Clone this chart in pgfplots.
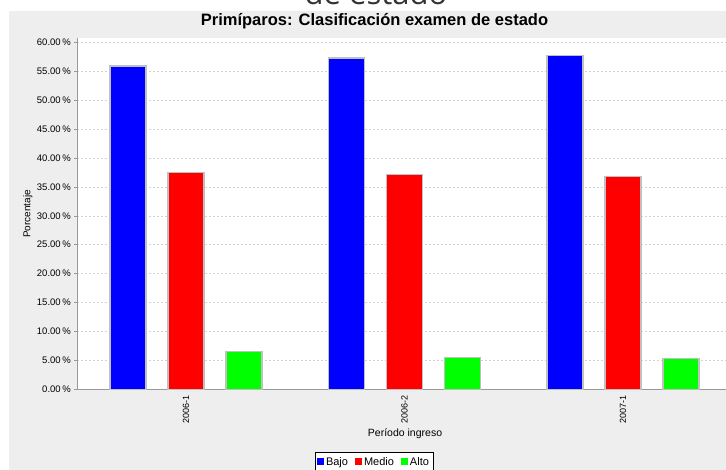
\documentclass[border=0pt]{standalone}
\usepackage{fontspec}
\setmainfont{Liberation Sans}
\newfontfamily\headfont{Open Sans}
\usepackage{pgfplots}
\pgfplotsset{compat=1.18}

\definecolor{panel}{HTML}{EEEEEE}
\definecolor{gridc}{HTML}{D2D2D2}
\definecolor{axisc}{HTML}{999999}
\definecolor{barline}{HTML}{C0C0C0}
\definecolor{bajo}{HTML}{0000FF}
\definecolor{medio}{HTML}{FF0000}
\definecolor{alto}{HTML}{00FF00}

\begin{document}
\begin{tikzpicture}[x=1pt,y=1pt]
% page background and cut-off heading above the chart
\fill[white] (0,0) rectangle (726,470);
\node[anchor=base, inner sep=0pt, font=\headfont\fontsize{31}{31}\selectfont, text=black!80] at (376,465) {de estado};
\fill[panel] (9,0) rectangle (740,459);

\begin{axis}[
  at={(77.3pt,80.7pt)}, anchor=south west,
  width=655.5pt, height=350.8pt, scale only axis,
  xmin=-0.4975, xmax=2.5025,
  ymin=0, ymax=60.66,
  ybar=22pt, bar width=36pt,
  xtick={0,1,2},
  xticklabels={2006-1,2006-2,2007-1},
  x tick label style={rotate=90, anchor=east, font=\fontsize{9}{9}\selectfont},
  ytick={0,5,...,60},
  yticklabel={\pgfmathprintnumber[fixed,fixed zerofill,precision=2]{\tick}\,\%},
  y tick label style={font=\fontsize{9.5}{10}\selectfont},
  /pgf/number format/assume math mode=true,
  axis x line*=bottom, axis y line*=left,
  axis line style={axisc, line width=0.8pt, -},
  tick align=outside, major tick length=3pt,
  ytick style={axisc, line width=0.6pt},
  xtick style={draw=none},
  ymajorgrids,
  grid style={gridc, dash pattern=on 2pt off 2pt, line width=0.5pt},
  axis background/.style={fill=white},
  title={Primíparos: Clasificación examen de estado},
  title style={font=\bfseries\fontsize{16.5}{16.5}\selectfont,
    at={(axis description cs:0.4534,1)}, anchor=base, yshift=6.5pt},
  xlabel={Período ingreso},
  xlabel style={at={(axis description cs:0.5,0)}, anchor=base, yshift=-47.7pt,
    font=\fontsize{10.5}{11}\selectfont},
  ylabel={Porcentaje},
  ylabel style={at={(axis description cs:-0.0757,0.5)}, anchor=center,
    font=\fontsize{10}{11}\selectfont},
  legend style={at={(axis description cs:0.4526,-0.178)}, anchor=north,
    draw=black, line width=0.8pt, fill=white, legend columns=-1,
    font=\fontsize{11}{12}\selectfont, inner xsep=2pt, inner ysep=3pt,
    /tikz/every even column/.append style={column sep=5pt}},
  legend image code/.code={\fill[#1, draw=none] (0pt,-3.5pt) rectangle (7pt,3.5pt);},
]
\addplot[fill=bajo, draw=barline, line width=1.2pt] coordinates {(0,55.9) (1,57.3) (2,57.75)};
\addplot[fill=medio, draw=barline, line width=1.2pt] coordinates {(0,37.5) (1,37.2) (2,36.75)};
\addplot[fill=alto, draw=barline, line width=1.2pt] coordinates {(0,6.5) (1,5.45) (2,5.3)};
\legend{Bajo, Medio, Alto}
\end{axis}

\pgfresetboundingbox
\useasboundingbox (0,0) rectangle (726,470);
\end{tikzpicture}
\end{document}
